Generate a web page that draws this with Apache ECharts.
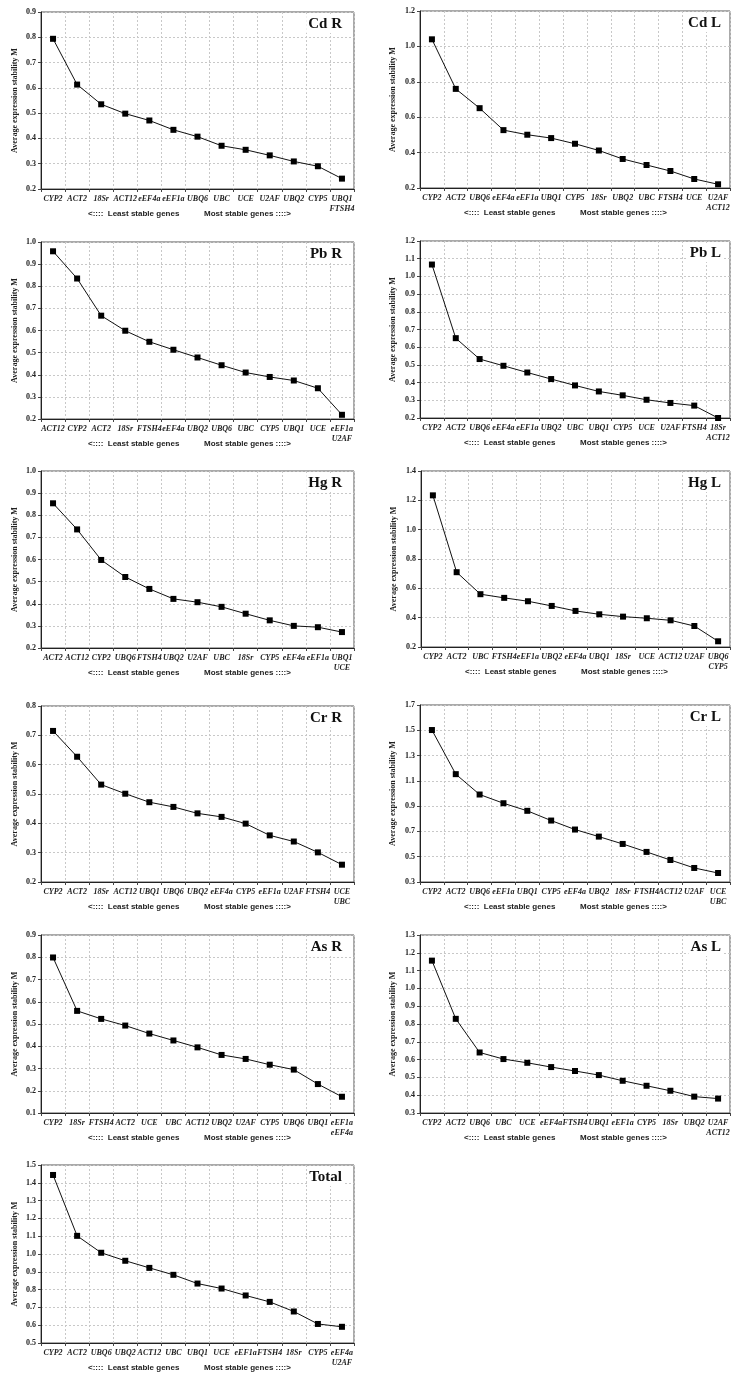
<!DOCTYPE html>
<html><head><meta charset="utf-8">
<script src="https://cdn.jsdelivr.net/npm/echarts@6/dist/echarts.min.js"></script>
<style>html,body{margin:0;padding:0;background:#fff}#c{width:742px;height:1381px}</style>
</head><body><div id="c"></div>
<script>
// ---- data ----
const cdRGenes = ['CYP2','ACT2','18Sr','ACT12','eEF4a','eEF1a','UBQ6','UBC','UCE','U2AF','UBQ2','CYP5','UBQ1\nFTSH4'];
const cdRValues = [0.794,0.613,0.535,0.498,0.471,0.434,0.407,0.371,0.355,0.333,0.309,0.290,0.241];
const cdLGenes = ['CYP2','ACT2','UBQ6','eEF4a','eEF1a','UBQ1','CYP5','18Sr','UBQ2','UBC','FTSH4','UCE','U2AF\nACT12'];
const cdLValues = [1.040,0.760,0.651,0.527,0.501,0.482,0.450,0.412,0.364,0.330,0.296,0.251,0.221];
const pbRGenes = ['ACT12','CYP2','ACT2','18Sr','FTSH4','eEF4a','UBQ2','UBQ6','UBC','CYP5','UBQ1','UCE','eEF1a\nU2AF'];
const pbRValues = [0.958,0.835,0.667,0.599,0.549,0.513,0.478,0.443,0.410,0.390,0.374,0.339,0.219];
const pbLGenes = ['CYP2','ACT2','UBQ6','eEF4a','eEF1a','UBQ2','UBC','UBQ1','CYP5','UCE','U2AF','FTSH4','18Sr\nACT12'];
const pbLValues = [1.067,0.651,0.533,0.495,0.457,0.420,0.384,0.350,0.328,0.303,0.285,0.270,0.200];
const hgRGenes = ['ACT2','ACT12','CYP2','UBQ6','FTSH4','UBQ2','U2AF','UBC','18Sr','CYP5','eEF4a','eEF1a','UBQ1\nUCE'];
const hgRValues = [0.854,0.736,0.598,0.521,0.467,0.422,0.407,0.386,0.355,0.325,0.300,0.294,0.272];
const hgLGenes = ['CYP2','ACT2','UBC','FTSH4','eEF1a','UBQ2','eEF4a','UBQ1','18Sr','UCE','ACT12','U2AF','UBQ6\nCYP5'];
const hgLValues = [1.234,0.710,0.560,0.535,0.512,0.480,0.446,0.423,0.407,0.396,0.382,0.343,0.239];
const crRGenes = ['CYP2','ACT2','18Sr','ACT12','UBQ1','UBQ6','UBQ2','eEF4a','CYP5','eEF1a','U2AF','FTSH4','UCE\nUBC'];
const crRValues = [0.715,0.627,0.532,0.501,0.472,0.456,0.434,0.422,0.399,0.359,0.338,0.301,0.259];
const crLGenes = ['CYP2','ACT2','UBQ6','eEF1a','UBQ1','CYP5','eEF4a','UBQ2','18Sr','FTSH4','ACT12','U2AF','UCE\nUBC'];
const crLValues = [1.502,1.153,0.992,0.923,0.863,0.786,0.715,0.659,0.601,0.538,0.474,0.411,0.371];
const asRGenes = ['CYP2','18Sr','FTSH4','ACT2','UCE','UBC','ACT12','UBQ2','U2AF','CYP5','UBQ6','UBQ1','eEF1a\neEF4a'];
const asRValues = [0.799,0.559,0.523,0.493,0.457,0.426,0.395,0.361,0.343,0.317,0.295,0.230,0.173];
const asLGenes = ['CYP2','ACT2','UBQ6','UBC','UCE','eEF4a','FTSH4','UBQ1','eEF1a','CYP5','18Sr','UBQ2','U2AF\nACT12'];
const asLValues = [1.156,0.829,0.640,0.603,0.582,0.558,0.536,0.513,0.481,0.453,0.425,0.392,0.381];
const totalGenes = ['CYP2','ACT2','UBQ6','UBQ2','ACT12','UBC','UBQ1','UCE','eEF1a','FTSH4','18Sr','CYP5','eEF4a\nU2AF'];
const totalValues = [1.444,1.102,1.007,0.962,0.922,0.883,0.834,0.806,0.767,0.731,0.677,0.607,0.591];

const panelTitles = ['Cd R','Cd L','Pb R','Pb L','Hg R','Hg L','Cr R','Cr L','As R','As L','Total'];
const yMins  = [0.2,0.2,0.2,0.2,0.2,0.2,0.2,0.3,0.1,0.3,0.5];
const yMaxs  = [0.9,1.2,1.0,1.2,1.0,1.4,0.8,1.7,0.9,1.3,1.5];
const ySteps = [0.1,0.2,0.1,0.1,0.1,0.2,0.1,0.2,0.1,0.1,0.1];
const yAxisTitle = 'Average expression stability M';
const leastText = '<::::  Least stable genes';
const mostText = 'Most stable genes ::::>';

const genesList = [cdRGenes,cdLGenes,pbRGenes,pbLGenes,hgRGenes,hgLGenes,crRGenes,crLGenes,asRGenes,asLGenes,totalGenes];
const valuesList = [cdRValues,cdLValues,pbRValues,pbLValues,hgRValues,hgLValues,crRValues,crLValues,asRValues,asLValues,totalValues];

// ---- layout (plot rects: left, top, right, bottom) ----
const rects = [
  [41,12,354,189],[420,11,730,188],
  [41,242,354,419],[420,241,730,418],
  [41,471,354,648],[421,471,730,647],
  [41,706,354,882],[420,705,730,882],
  [41,935,354,1113],[420,935,730,1113],
  [41,1165,354,1343]
];
const W = 742, H = 1381;
const serif = '"Liberation Serif","Times New Roman",serif';
const sans = '"Liberation Sans",Arial,sans-serif';

const grids=[], xAxes=[], yAxes=[], series=[], graphics=[];
rects.forEach((r,i)=>{
  const [l,t,rt,b]=r;
  const isRight = l > 300;
  grids.push({left:l, top:t, width:rt-l, height:b-t, show:true, borderColor:'#555', borderWidth:1, containLabel:false});
  xAxes.push({
    type:'category', gridIndex:i, data:genesList[i], boundaryGap:true,
    axisLine:{lineStyle:{color:'#222',width:1}},
    axisTick:{show:true,length:3,lineStyle:{color:'#444'}},
    axisLabel:{interval:0, margin:5, fontFamily:serif, fontStyle:'italic', fontWeight:'bold', fontSize:8, color:'#222', lineHeight:10},
    splitLine:{show:true, interval:0, lineStyle:{color:'#c8c8c8', type:[2,2], width:1}}
  });
  yAxes.push({
    type:'value', gridIndex:i, min:yMins[i], max:yMaxs[i], interval:ySteps[i],
    name:yAxisTitle, nameLocation:'middle', nameGap:isRight?23:22, nameRotate:90,
    nameTextStyle:{fontFamily:serif, fontWeight:'bold', fontSize:8, color:'#222'},
    axisLine:{show:true, lineStyle:{color:'#222',width:1}},
    axisTick:{show:true,length:3,lineStyle:{color:'#444'}},
    axisLabel:{margin:5, fontFamily:serif, fontWeight:'bold', fontSize:8, color:'#222', formatter:v=>v.toFixed(1)},
    splitLine:{show:true, lineStyle:{color:'#c8c8c8', type:[2,2], width:1}}
  });
  series.push({
    type:'line', xAxisIndex:i, yAxisIndex:i, data:valuesList[i],
    symbol:'rect', symbolSize:6, showSymbol:true,
    lineStyle:{color:'#111',width:1}, itemStyle:{color:'#000'},
    animation:false, silent:true
  });
  graphics.push({type:'text', right: W-(rt-(isRight?7:10)), top:t+4, z:100,
    style:{text:panelTitles[i], font:'bold 15px '+serif, fill:'#111', backgroundColor:'#fff', padding:[1,2,1,2]}});
  graphics.push({type:'text', left:l+(isRight?44:47), top:b+21,
    style:{text:leastText, font:'bold 8px '+sans, fill:'#222'}});
  graphics.push({type:'text', left:l+(isRight?160:163), top:b+21,
    style:{text:mostText, font:'bold 8px '+sans, fill:'#222'}});
});

const chart = echarts.init(document.getElementById('c'), null, {renderer:'canvas'});
chart.setOption({
  animation:false, backgroundColor:'#fff',
  grid:grids, xAxis:xAxes, yAxis:yAxes, series:series, graphic:graphics
});
</script></body></html>
